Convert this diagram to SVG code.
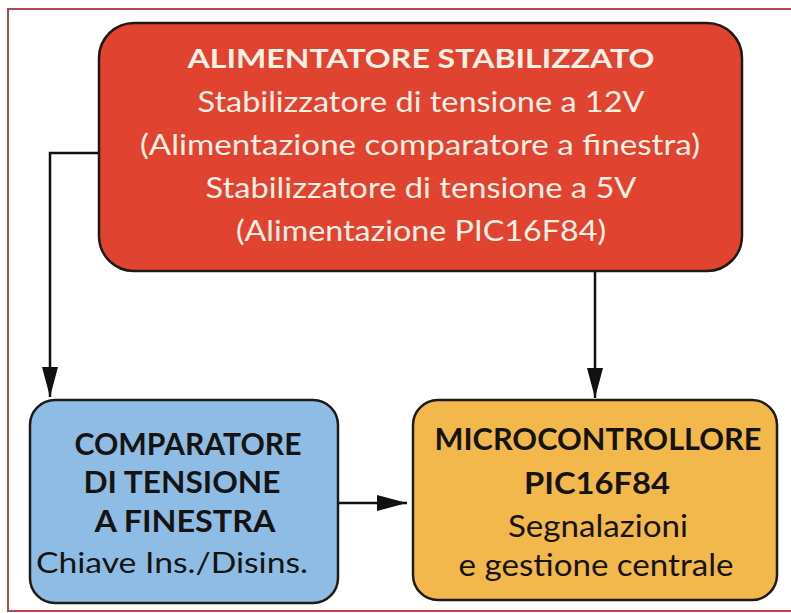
<svg xmlns="http://www.w3.org/2000/svg" width="791" height="613" viewBox="0 0 791 613">
<defs>
<style>
.box{stroke:#1e1a18;stroke-width:2.5}
.red{fill:#e0432f}
.blue{fill:#8fbce4}
.orange{fill:#f2b84c}
text{font-family:Lato,"Open Sans","Liberation Sans",sans-serif;text-anchor:middle}
.b{font-weight:bold}
.w{fill:#fdf0e4}
.k{fill:#161412}
.conn{fill:none;stroke:#111;stroke-width:2.5}
</style>
<marker id="ah" viewBox="0 0 30 16" refX="30" refY="8" markerWidth="30" markerHeight="16" markerUnits="userSpaceOnUse" orient="auto">
<path d="M0,0 L30,8 L0,16 Z" fill="#111"/>
</marker>
</defs>
<rect x="0" y="0" width="791" height="613" fill="#ffffff"/>
<rect x="8" y="9" width="800" height="602" fill="none" stroke="#b8454c" stroke-width="2"/>

<g id="connectors">
<path class="conn" d="M99,153 H50 V397" marker-end="url(#ah)"/>
<path class="conn" d="M595,271 V398" marker-end="url(#ah)"/>
<path class="conn" d="M338,503 H407" marker-end="url(#ah)"/>
</g>

<g id="alimentatore">
<rect class="box red" x="99" y="23" width="643" height="248" rx="35" ry="35"/>
<text class="b w" x="421" y="68" font-size="26" textLength="467" lengthAdjust="spacingAndGlyphs">ALIMENTATORE STABILIZZATO</text>
<text class="w" x="421" y="112" font-size="28" textLength="447" lengthAdjust="spacingAndGlyphs">Stabilizzatore di tensione a 12V</text>
<text class="w" x="420" y="155" font-size="28" textLength="560" lengthAdjust="spacingAndGlyphs">(Alimentazione comparatore a finestra)</text>
<text class="w" x="421" y="198" font-size="28" textLength="431" lengthAdjust="spacingAndGlyphs">Stabilizzatore di tensione a 5V</text>
<text class="w" x="421" y="241" font-size="28" textLength="370" lengthAdjust="spacingAndGlyphs">(Alimentazione PIC16F84)</text>
</g>

<g id="comparatore">
<rect class="box blue" x="30" y="400" width="308" height="203" rx="25" ry="25"/>
<text class="b k" x="188" y="455" font-size="30" textLength="227" lengthAdjust="spacingAndGlyphs">COMPARATORE</text>
<text class="b k" x="182" y="493" font-size="30" textLength="197" lengthAdjust="spacingAndGlyphs">DI TENSIONE</text>
<text class="b k" x="185" y="532" font-size="30" textLength="181" lengthAdjust="spacingAndGlyphs">A FINESTRA</text>
<text class="k" x="172" y="573" font-size="29" textLength="272" lengthAdjust="spacingAndGlyphs">Chiave Ins./Disins.</text>
</g>

<g id="microcontrollore">
<rect class="box orange" x="413" y="400" width="364" height="200" rx="25" ry="25"/>
<text class="b k" x="598" y="450" font-size="31" textLength="327" lengthAdjust="spacingAndGlyphs">MICROCONTROLLORE</text>
<text class="b k" x="597" y="494" font-size="31" textLength="146" lengthAdjust="spacingAndGlyphs">PIC16F84</text>
<text class="k" x="598" y="537" font-size="30" textLength="180" lengthAdjust="spacingAndGlyphs">Segnalazioni</text>
<text class="k" x="596" y="576" font-size="30" textLength="275" lengthAdjust="spacingAndGlyphs">e gestione centrale</text>
</g>
</svg>
